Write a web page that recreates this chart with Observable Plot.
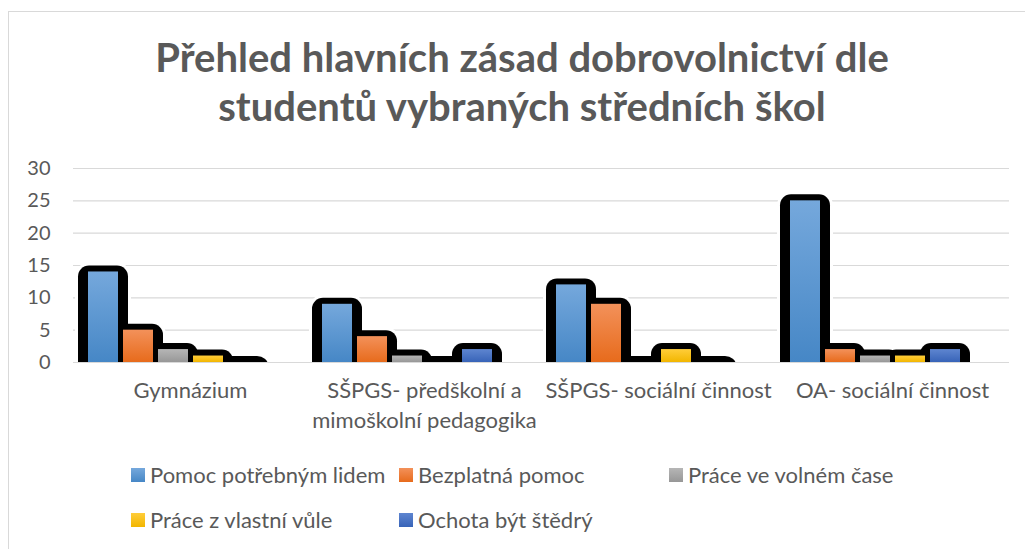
<!DOCTYPE html>
<html><head><meta charset="utf-8">
<script src="https://cdn.jsdelivr.net/npm/d3@7"></script>
<script src="https://cdn.jsdelivr.net/npm/@observablehq/plot@0.6"></script>
<style>
body{margin:0;background:#fff;font-family:Lato,sans-serif;}
#wrap{position:relative;width:1025px;height:549px;overflow:hidden;background:#fff;}
#frame{position:absolute;left:8px;top:11px;width:1100px;height:600px;border:1.5px solid #d9d9d9;box-sizing:border-box;}
#title{position:absolute;left:8px;width:1028px;top:33px;text-align:center;font-weight:bold;font-size:40px;line-height:49px;color:#595959;}
#chart{position:absolute;left:0;top:150px;}
#legend{position:absolute;left:131px;top:452px;display:grid;grid-template-columns:268px 270px auto;grid-auto-rows:45px;align-items:center;font-size:22px;color:#595959;}
.item{display:flex;align-items:center;white-space:nowrap;}
.sw{width:14px;height:14px;margin-right:5px;flex:none;}
</style>
</head><body>
<div id="wrap">
<div id="frame"></div>
<div id="title">Přehled hlavních zásad dobrovolnictví dle<br>studentů vybraných středních škol</div>
<div id="chart"></div>
<div id="legend"></div>
</div>
<script>
const categories = ["Gymnázium", "SŠPGS- předškolní a\nmimoškolní pedagogika", "SŠPGS- sociální činnost", "OA- sociální činnost"];
const series = ["Pomoc potřebným lidem", "Bezplatná pomoc", "Práce ve volném čase", "Práce z vlastní vůle", "Ochota být štědrý"];
const pomocPotrebnym = [14, 9, 12, 25];
const bezplatnaPomoc = [5, 4, 9, 2];
const praceVolnyCas = [2, 1, 0, 1];
const praceVlastniVule = [1, 0, 2, 1];
const ochotaStedry = [0, 2, 0, 2];
const yTicks = [0, 5, 10, 15, 20, 25, 30];
const gradTop = ["#75a8dc", "#f3915a", "#b6b6b6", "#ffcd3a", "#5e85d0"];
const gradBottom = ["#4687c6", "#e76b1c", "#979797", "#f2b600", "#3864b8"];

const values = [pomocPotrebnym, bezplatnaPomoc, praceVolnyCas, praceVlastniVule, ochotaStedry];
const rows = [];
categories.forEach((c, i) => series.forEach((s, j) => rows.push({category: c, series: s, value: values[j][i]})));
const gradIds = series.map((s, j) => `url(#grad${j})`);

const geom = {fx: "category", x: "series", y: "value", insetLeft: -10, insetRight: -10, insetTop: -6, insetBottom: -12, rx: 11, clip: true};

const svg = Plot.plot({
  width: 1025, height: 290,
  marginLeft: 72, marginRight: 15, marginTop: 18, marginBottom: 78,
  style: {fontFamily: "Lato, sans-serif", fontSize: "20px", color: "#595959", background: "transparent"},
  fx: {domain: categories, padding: 0, label: null},
  x: {domain: series, range: [86, 257.6], paddingInner: 0.15, paddingOuter: 0, axis: null},
  y: {domain: [0, 30], label: null, axis: null},
  color: {type: "ordinal", domain: series, range: gradIds},
  marks: [
    Plot.ruleY(yTicks, {stroke: "#d9d9d9", strokeWidth: 1.2}),
    Plot.axisY(yTicks, {tickSize: 0, tickPadding: 23, fontSize: 20, fill: "#595959", label: null}),
    Plot.axisFx({anchor: "bottom", tickSize: 0, tickPadding: 14, lineHeight: 1.36, fontSize: 22, fill: "#595959", label: null}),
    Plot.barY(rows, {...geom, fill: "white", stroke: "white", strokeWidth: 6}),
    Plot.barY(rows, {...geom, fill: "black"}),
    Plot.barY(rows, {fx: "category", x: "series", y: "value", fill: "series"})
  ]
});

const defs = d3.select(svg).insert("defs", ":first-child");
series.forEach((s, j) => {
  const g = defs.append("linearGradient").attr("id", `grad${j}`).attr("x1", 0).attr("y1", 0).attr("x2", 0).attr("y2", 1);
  g.append("stop").attr("offset", "0%").attr("stop-color", gradTop[j]);
  g.append("stop").attr("offset", "100%").attr("stop-color", gradBottom[j]);
});
document.getElementById("chart").appendChild(svg);

const legend = d3.select("#legend");
series.forEach((s, j) => {
  const it = legend.append("div").attr("class", "item");
  it.append("div").attr("class", "sw").style("background", `linear-gradient(${gradTop[j]}, ${gradBottom[j]})`);
  it.append("span").text(s);
});
</script>
</body></html>
